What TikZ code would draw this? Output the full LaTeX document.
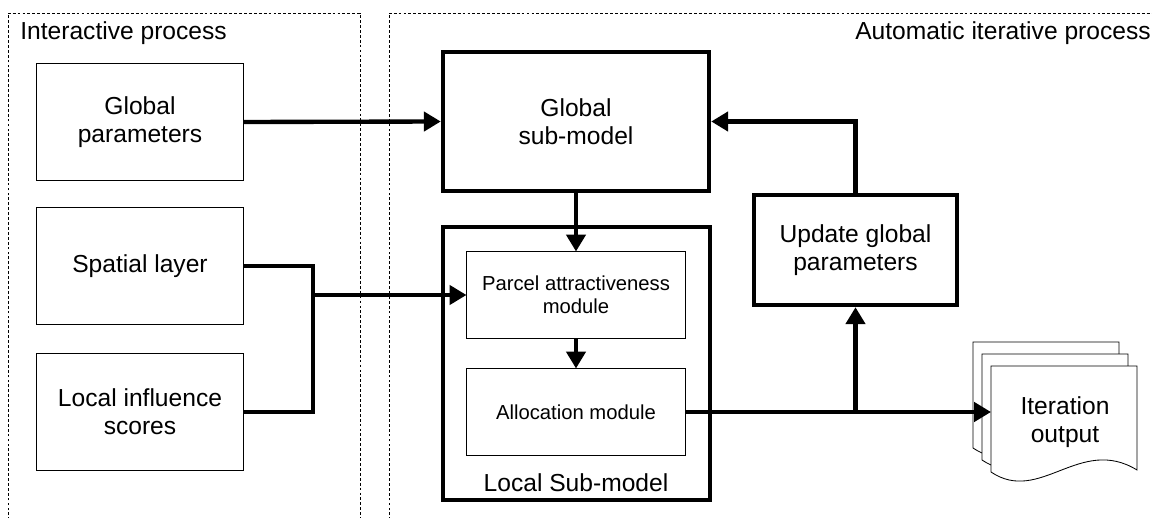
\documentclass[tikz,border=0pt]{standalone}
\usepackage{fontspec}
\setmainfont{Liberation Sans}
\usetikzlibrary{arrows.meta}

\begin{document}
\begin{tikzpicture}[x=0.025cm, y=-0.025cm, line join=miter,
  every node/.style={font=\fontsize{17.5}{20}\selectfont},
  panel/.style={draw, line width=0.5pt, dash pattern=on 2pt off 1.5pt},
  inbox/.style={draw, line width=0.7pt, minimum width=5.15cm, minimum height=2.9cm, align=center},
  subbox/.style={draw, line width=3.1pt, align=center},
  modbox/.style={draw, line width=0.7pt, minimum width=5.45cm, minimum height=2.15cm, align=center,
                 font=\fontsize{14.4}{16.5}\selectfont},
  wire/.style={line width=3.1pt},
  conn/.style={wire, -{Triangle[length=12pt,width=13.5pt]}},
  docpage/.style={draw, fill=white, line width=0.6pt}]

\useasboundingbox (0,0) rectangle (1152,518);

% ---------- panels ----------
\draw[panel] (8,530) -- (8,13) -- (360,13) -- (360,530);
\draw[panel] (389,530) -- (389,13) -- (1160,13);
\node[anchor=west, inner sep=0pt] (ltitle) at (20,33) {Interactive process};
\node[anchor=east, inner sep=0pt] (rtitle) at (1151,33) {Automatic iterative process};

% ---------- inputs ----------
\node[inbox] (gpar) at (140,122) {Global\\parameters};
\node[inbox] (spat) at (140,266) {Spatial layer};
\node[inbox] (linf) at (140,412) {Local influence\\scores};

% ---------- sub-models ----------
\node[subbox, minimum width=6.65cm, minimum height=3.475cm] (gsub) at (576,121.5) {Global\\sub-model};
\node[subbox, minimum width=6.675cm, minimum height=6.825cm] (lsub) at (576.5,363.5) {};
\node[modbox] (parc) at (576,295) {Parcel attractiveness\\module};
\node[modbox] (allo) at (576,412) {Allocation module};
\node (lsubtxt) at (576,483) {Local Sub-model};
\node[subbox, minimum width=5.075cm, minimum height=2.75cm] (upd) at (855.5,250) {Update global\\parameters};

% ---------- iteration output (stacked pages) ----------
\foreach \dx/\dy in {-18/-24, -9/-12, 0/0}
  \draw[docpage, shift={(\dx,\dy)}] (991,472) -- (991,366) -- (1137,366) -- (1137,470)
    .. controls (1080,435) and (1040,505) .. cycle;
\node[align=center] (outp) at (1065,422) {Iteration\\output};
\coordinate (outin) at (991,412);
\coordinate (jn) at (313,0);

% ---------- connectors ----------
\draw[conn] (gpar.east) -- (gsub.west);
\draw[conn] (gsub.south) -- (parc.north);
\draw[wire] (spat.east) -| (jn |- linf.east) -- (linf.east);
\draw[conn] (jn |- parc.west) -- (parc.west);
\draw[conn] (parc.south) -- (allo.north);
\draw[conn] (allo.east) -- (allo.east -| outin);
\draw[conn] (allo.east -| upd.south) -- (upd.south);
\draw[conn] (upd.north) |- (gsub.east);

\end{tikzpicture}
\end{document}
